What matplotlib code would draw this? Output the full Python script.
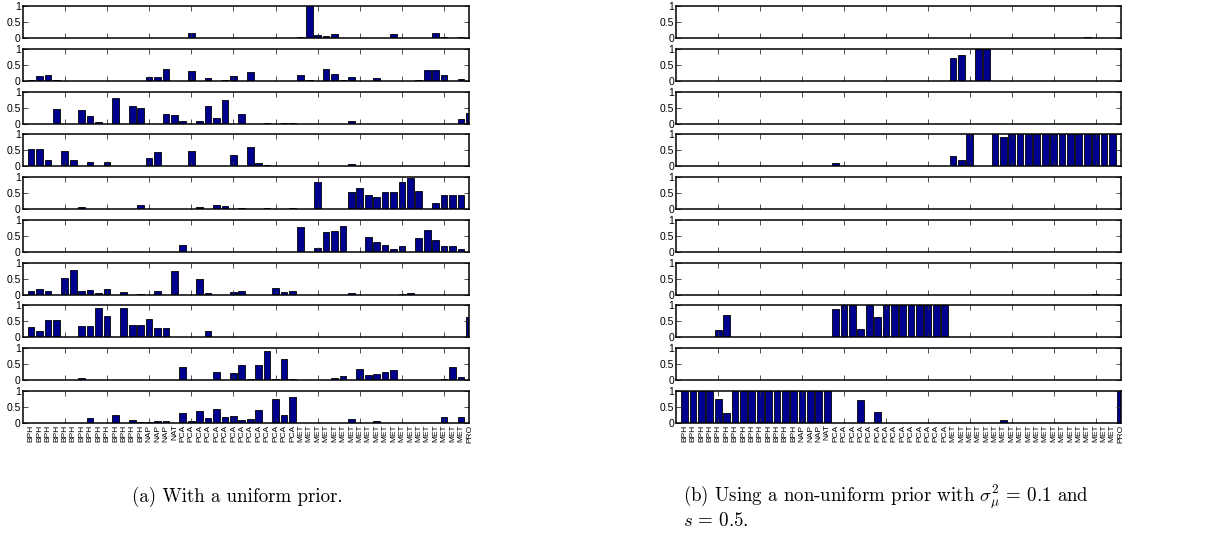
import matplotlib
matplotlib.use('Agg')
import matplotlib.pyplot as plt
from matplotlib import font_manager
import numpy as np

# sample classes along the x axis
groups = ['BPH', 'NAP', 'NAT', 'PCA', 'MET', 'PRO']
group_sizes = [14, 3, 1, 14, 20, 1]
labels = [g for g, n in zip(groups, group_sizes) for _ in range(n)]

# one dict per component row: bar number (1-based) -> weight, missing bars are 0
uniform_rows = [
    {20: .17, 27: .01, 33: .02, 34: 1.0, 35: .08, 36: .05, 37: .13, 38: .01,
     42: .01, 44: .11, 47: .01, 49: .15, 50: .04, 52: .03},
    {1: .03, 2: .14, 3: .17, 4: .01, 15: .13, 16: .11, 17: .36, 20: .30, 22: .08,
     24: .02, 25: .16, 27: .27, 33: .19, 34: .03, 36: .36, 37: .20, 38: .04,
     39: .12, 42: .09, 47: .01, 48: .34, 49: .34, 50: .19, 52: .07},
    {4: .47, 7: .42, 8: .24, 9: .04, 11: .79, 13: .54, 14: .50, 17: .30, 18: .27,
     19: .09, 21: .08, 22: .54, 23: .18, 24: .73, 26: .31, 29: .03, 31: .03,
     32: .01, 39: .08, 52: .13, 53: .34},
    {1: .54, 2: .54, 3: .19, 5: .47, 6: .19, 8: .14, 10: .15, 15: .26, 16: .46,
     20: .47, 25: .34, 27: .59, 28: .11, 29: .03, 39: .08},
    {7: .07, 14: .13, 21: .07, 23: .14, 24: .10, 26: .04, 29: .05, 32: .02,
     35: .86, 39: .53, 40: .67, 41: .44, 42: .38, 43: .55, 44: .54, 45: .85,
     46: .96, 47: .58, 49: .20, 50: .43, 51: .45, 52: .45},
    {19: .20, 32: .01, 33: .79, 35: .11, 36: .61, 37: .66, 38: .82, 41: .45,
     42: .31, 43: .21, 44: .09, 45: .17, 47: .42, 48: .69, 49: .38, 50: .17,
     51: .17, 52: .09},
    {1: .11, 2: .18, 3: .11, 5: .53, 6: .77, 7: .11, 8: .15, 9: .06, 10: .19,
     12: .09, 14: .01, 16: .11, 18: .74, 21: .49, 22: .04, 25: .08, 26: .11,
     30: .22, 31: .08, 32: .12, 39: .06, 45: .03, 46: .06},
    {1: .33, 2: .19, 3: .55, 4: .54, 7: .35, 8: .35, 9: .92, 10: .67, 12: .92,
     13: .38, 14: .38, 15: .57, 16: .30, 17: .30, 22: .21, 39: .02, 53: .64},
    {7: .08, 19: .42, 20: .02, 23: .27, 25: .24, 26: .47, 27: .03, 28: .49,
     29: .92, 30: .05, 31: .66, 32: .05, 36: .01, 37: .06, 38: .14, 40: .36,
     41: .15, 42: .18, 43: .27, 44: .33, 47: .02, 50: .03, 51: .40, 52: .10},
    {6: .01, 8: .16, 11: .24, 13: .09, 14: .02, 15: .02, 16: .05, 17: .05,
     19: .31, 20: .07, 21: .38, 22: .16, 23: .44, 24: .19, 25: .21, 26: .11,
     27: .12, 28: .42, 30: .76, 31: .25, 32: .80, 39: .14, 42: .05, 50: .19,
     52: .19},
]

nonuniform_rows = [
    {49: .02},
    {33: .71, 34: .81, 36: 1.0, 37: 1.0},
    {},
    {19: .10, 20: .02, 23: .01, 29: .01, 33: .31, 34: .21, 35: 1.0,
     38: 1.0, 39: .93, 40: 1.0, 41: 1.0, 42: 1.0, 43: 1.0, 44: 1.0, 45: 1.0,
     46: 1.0, 47: 1.0, 48: 1.0, 49: 1.0, 50: 1.0, 51: 1.0, 52: 1.0},
    {},
    {},
    {50: .01},
    {5: .24, 6: .69, 19: .90, 20: 1.0, 21: 1.0, 22: .26, 23: 1.0, 24: .64,
     25: 1.0, 26: 1.0, 27: 1.0, 28: 1.0, 29: 1.0, 30: 1.0, 31: 1.0, 32: 1.0},
    {},
    {1: 1.0, 2: 1.0, 3: 1.0, 4: 1.0, 5: .76, 6: .30, 7: 1.0, 8: 1.0, 9: 1.0,
     10: 1.0, 11: 1.0, 12: 1.0, 13: 1.0, 14: 1.0, 15: 1.0, 16: 1.0, 17: 1.0,
     18: 1.0, 22: .72, 24: .36, 39: .09, 53: 1.0},
]

n_bars = len(labels)
bar_x = np.arange(1, n_bars + 1)
bar_color = (0, 0, 0.5625)

W, H = 1207, 537
fig = plt.figure(figsize=(W / 100, H / 100), dpi=100)

names = {f.name for f in font_manager.fontManager.ttflist}
narrow = 'Liberation Sans Narrow' if 'Liberation Sans Narrow' in names else 'Liberation Sans'


def draw_panel(rows, left_px, width_px):
    for k, row in enumerate(rows):
        vals = np.zeros(n_bars)
        for i, v in row.items():
            vals[i - 1] = v
        top_px = 6 + k * 42.78
        ax = fig.add_axes([left_px / W, 1 - (top_px + 32) / H, width_px / W, 32 / H])
        ax.bar(bar_x, vals, width=0.8, color=bar_color, edgecolor='black', linewidth=0.6)
        ax.set_xlim(0, n_bars)
        ax.set_ylim(0, 1)
        ax.set_yticks([0, 0.5, 1])
        ax.set_yticklabels(['0', '0.5', '1'], family='Liberation Sans', fontsize=7.5)
        ax.set_xticks(np.arange(5, 51, 5))
        ax.set_xticklabels([])
        ax.tick_params(direction='in', top=True, right=True, length=3.5, width=0.6,
                       pad=1.5, color='#333333')
        for s in ax.spines.values():
            s.set_linewidth(1.1)
        if k == len(rows) - 1:
            # class names under every bar, including those on the major tick spots
            ax.xaxis.remove_overlapping_locs = False
            ax.set_xticks(bar_x, minor=True)
            ax.set_xticklabels(labels, minor=True, rotation=90, fontsize=6,
                               family=narrow, va='top')
            ax.tick_params(axis='x', which='minor', length=0, pad=1)


draw_panel(uniform_rows, 22.7, 446.7)
draw_panel(nonuniform_rows, 676.3, 444.4)

plt.rcParams['mathtext.fontset'] = 'cm'
fig.text(237.5 / W, 1 - 497 / H, '(a) With a uniform prior.', family='cmr10',
         fontsize=13.6, ha='center', va='center')
fig.text(683 / W, 1 - 497 / H, r'(b) Using a non-uniform prior with $\sigma_\mu^2\,=\,0.1$ and',
         family='cmr10', fontsize=13.6, ha='left', va='center')
fig.text(683 / W, 1 - 521 / H, r'$s\,=\,0.5$.', family='cmr10',
         fontsize=13.6, ha='left', va='center')

fig.savefig('out.png', dpi=100)
